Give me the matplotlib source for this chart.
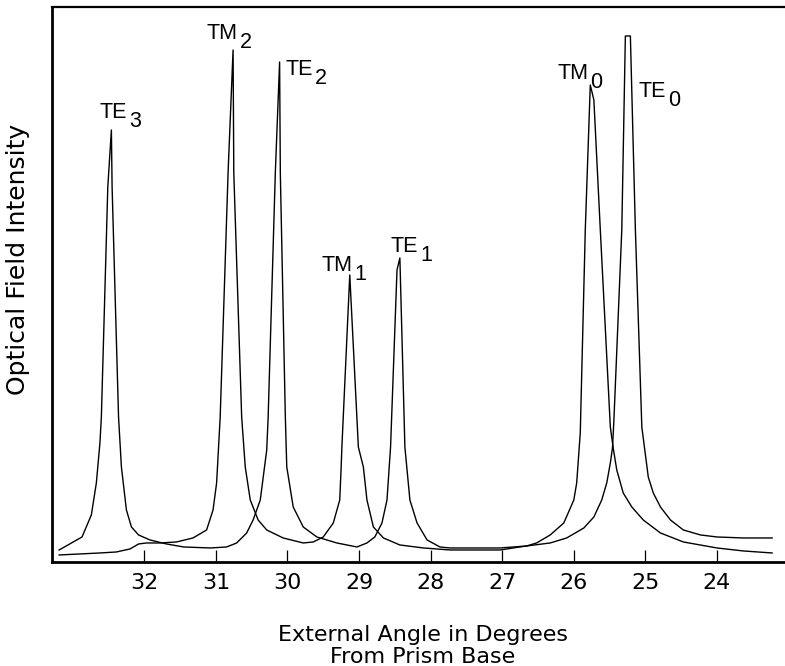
import matplotlib
matplotlib.use('Agg')
import matplotlib.pyplot as plt

plt.rcParams['font.family'] = ['Liberation Sans', 'DejaVu Sans']

# angles in degrees, intensity in arbitrary units
te_angle = [33.19, 32.87, 32.74, 32.67, 32.62, 32.60, 32.51, 32.46, 32.45, 32.36,
            32.32, 32.25, 32.18, 32.08, 31.92, 31.69, 31.45, 31.08, 30.85, 30.71,
            30.57, 30.48, 30.38, 30.29, 30.27, 30.17, 30.11, 30.10, 30.03, 30.01,
            29.92, 29.78, 29.59, 29.31, 29.03, 28.89, 28.78, 28.68, 28.61, 28.56,
            28.47, 28.43, 28.36, 28.29, 28.19, 28.05, 27.87, 27.73, 27.03, 26.66,
            26.33, 26.10, 25.86, 25.72, 25.61, 25.54, 25.49, 25.46, 25.44, 25.33,
            25.28, 25.21, 25.14, 25.05, 24.96, 24.89, 24.79, 24.65, 24.47, 24.23,
            24.00, 23.63, 23.23]
te_intensity = [12, 25, 47, 79, 119, 145, 375, 432, 375, 145,
                95, 52, 35, 27, 22, 18, 15, 14, 15, 19,
                29, 42, 62, 112, 145, 389, 500, 389, 145, 95,
                55, 35, 25, 19, 15, 19, 25, 39, 62, 115,
                292, 304, 115, 62, 39, 22, 15, 14, 14, 16,
                19, 24, 34, 45, 62, 79, 99, 114, 142, 332,
                526, 526, 332, 135, 85, 69, 55, 42, 32, 27,
                25, 24, 24]

tm_angle = [33.19, 32.62, 32.39, 32.20, 32.08, 31.97, 31.78, 31.55, 31.32, 31.13,
            31.04, 30.99, 30.94, 30.83, 30.76, 30.75, 30.64, 30.59, 30.52, 30.41,
            30.29, 30.06, 29.78, 29.64, 29.50, 29.36, 29.27, 29.25, 29.24, 29.13,
            29.01, 28.94, 28.89, 28.80, 28.66, 28.43, 28.10, 27.73, 27.03, 26.66,
            26.52, 26.33, 26.14, 26.00, 25.96, 25.91, 25.84, 25.77, 25.72, 25.63,
            25.49, 25.45, 25.40, 25.31, 25.19, 25.03, 24.79, 24.47, 24.00, 23.63,
            23.23]
tm_intensity = [7, 9, 10, 13, 18, 19, 19, 20, 24, 32,
                52, 79, 145, 389, 512, 389, 145, 95, 62, 42,
                32, 24, 19, 20, 25, 39, 62, 95, 115, 287,
                115, 95, 62, 35, 24, 17, 14, 12, 12, 16,
                19, 27, 39, 62, 79, 129, 332, 477, 462, 332,
                135, 114, 92, 69, 55, 42, 29, 20, 14, 11,
                9]

mode_names = ['TE', 'TM', 'TE', 'TM', 'TE', 'TM', 'TE']
mode_orders = ['3', '2', '2', '1', '1', '0', '0']
label_angle = [32.62, 31.13, 30.03, 29.53, 28.56, 26.23, 25.10]
label_intensity = [444, 523, 487, 291, 310, 483, 465]

tick_angles = [32, 31, 30, 29, 28, 27, 26, 25, 24]

wide = ['DejaVu Sans']

fig = plt.figure(figsize=(7.85, 6.66), dpi=100)
ax = fig.add_axes([0.0662, 0.1562, 0.9338, 0.8333])

ax.plot(te_angle, te_intensity, color='black', lw=1.0)
ax.plot(tm_angle, tm_intensity, color='black', lw=1.0)

ax.set_xlim(33.29, 23.05)
ax.set_ylim(0, 555)

for name, order, a, i in zip(mode_names, mode_orders, label_angle, label_intensity):
    t = ax.text(a, i, name, fontsize=15.5, ha='left', va='baseline')
    ax.annotate(order, xy=(1, 0), xycoords=t, xytext=(1.5, -3),
                textcoords='offset points', fontsize=15.5, ha='left', va='baseline')

ax.set_xticks(tick_angles)
ax.set_xticklabels([str(v) for v in tick_angles], fontsize=16, family=wide)
ax.set_yticks([])
ax.tick_params(axis='x', direction='in', length=8.5, width=0.9, pad=8)

for s in ['left', 'bottom']:
    ax.spines[s].set_linewidth(2.0)
ax.spines['top'].set_linewidth(1.6)
ax.spines['right'].set_visible(False)

ax.set_ylabel('Optical Field Intensity', fontsize=18, family=wide)
ax.yaxis.set_label_coords(-0.03, 0.545)

fig.text(0.539, 0.061, 'External Angle in Degrees\nFrom Prism Base',
         fontsize=16, family=wide, ha='center', va='top', linespacing=1.1)

fig.savefig('out.png', dpi=100)
